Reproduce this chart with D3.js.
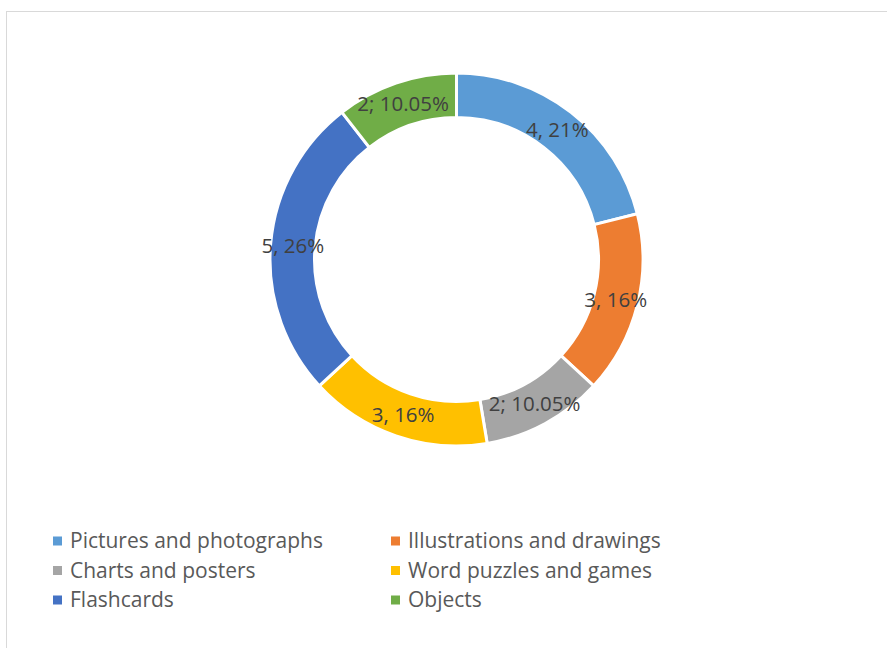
<!DOCTYPE html>
<html>
<head>
<meta charset="utf-8">
<script src="https://cdn.jsdelivr.net/npm/d3@7/dist/d3.min.js"></script>
<style>
  html, body { margin: 0; padding: 0; background: #fff; }
  svg { display: block; }
</style>
</head>
<body>
<svg id="chart" width="887" height="648"></svg>
<script>
// Teaching materials used, as counts with their data labels
const categories = [
  "Pictures and photographs",
  "Illustrations and drawings",
  "Charts and posters",
  "Word puzzles and games",
  "Flashcards",
  "Objects"
];
const values = [4, 3, 2, 3, 5, 2];
const labels = ["4, 21%", "3, 16%", "2; 10.05%", "3, 16%", "5, 26%", "2; 10.05%"];
const colors = ["#5B9BD5", "#ED7D31", "#A5A5A5", "#FFC000", "#4472C4", "#70AD47"];

const svg = d3.select("#chart");
const W = 887, H = 648;

// chart area frame
svg.append("rect")
  .attr("x", 6.5).attr("y", 11.5)
  .attr("width", W).attr("height", H)
  .attr("fill", "#fff")
  .attr("stroke", "#d9d9d9")
  .attr("stroke-width", 1);

const cx = 456.5, cy = 259.5;
const outerR = 186.5, innerR = 142;

const pie = d3.pie().sort(null).value(d => d.v);
const arcs = pie(values.map((v, i) => ({ v, i })));
const arc = d3.arc().innerRadius(innerR).outerRadius(outerR);
const labelArc = d3.arc().innerRadius((innerR + outerR) / 2).outerRadius((innerR + outerR) / 2);

const g = svg.append("g").attr("transform", `translate(${cx},${cy})`);

g.selectAll("path.slice")
  .data(arcs)
  .join("path")
  .attr("class", "slice")
  .attr("d", arc)
  .attr("fill", d => colors[d.data.i])
  .attr("stroke", "#fff")
  .attr("stroke-width", 3)
  .attr("stroke-linejoin", "miter");

g.selectAll("text.lbl")
  .data(arcs)
  .join("text")
  .attr("class", "lbl")
  .attr("transform", d => {
    const [x, y] = labelArc.centroid(d);
    return `translate(${x},${y})`;
  })
  .attr("text-anchor", "middle")
  .attr("dy", "0.35em")
  .attr("font-family", "'Open Sans', 'Noto Sans', sans-serif")
  .attr("font-size", 20.5)
  .attr("fill", "#404040")
  .text(d => labels[d.data.i]);

// legend: two columns, three rows
const legendCols = [53, 391];
const legendRows = [541, 570.5, 600];
const legend = svg.append("g");
categories.forEach((name, i) => {
  const col = i % 2, row = Math.floor(i / 2);
  const x = legendCols[col], y = legendRows[row];
  legend.append("rect")
    .attr("x", x).attr("y", y - 4.5)
    .attr("width", 9).attr("height", 9)
    .attr("fill", colors[i]);
  legend.append("text")
    .attr("x", x + 17).attr("y", y)
    .attr("dy", "0.35em")
    .attr("font-family", "'Open Sans', 'Noto Sans', sans-serif")
    .attr("font-size", 21)
    .attr("fill", "#595959")
    .text(name);
});
</script>
</body>
</html>
